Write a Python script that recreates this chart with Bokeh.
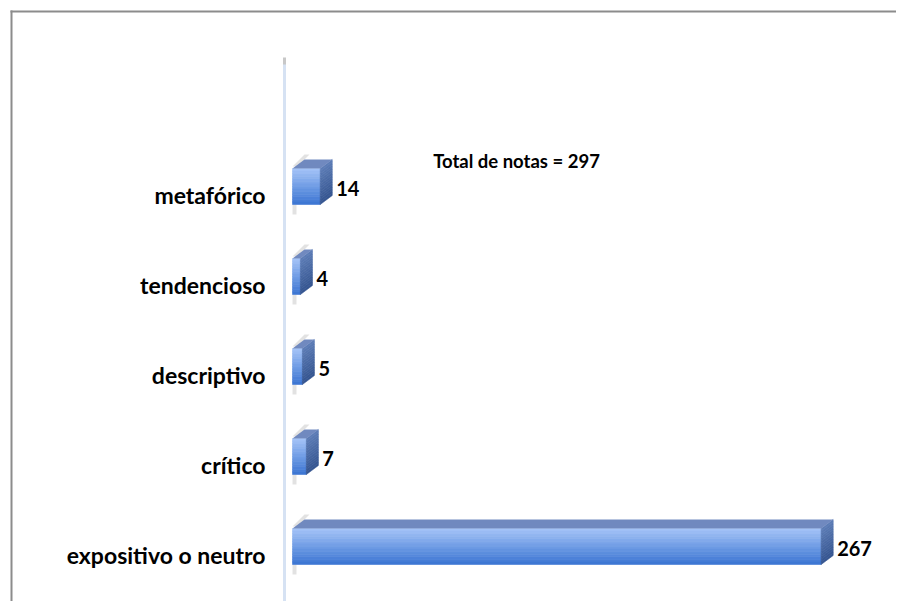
import numpy as np
from bokeh.plotting import figure
from bokeh.models import Range1d
from bokeh.embed import file_html
from bokeh.resources import INLINE
from bokeh.core.properties import value

# ---- data ----
categories = ["expositivo o neutro", "crítico", "descriptivo", "tendencioso", "metafórico"]
counts = [267, 7, 5, 4, 14]
total_text = "Total de notas = 297"

# ---- layout (canvas pixels) ----
W, H = 896, 601
X0_PX = 292              # canvas x of value 0
PPU = 1.98               # pixels per unit on x
Y0_PX = 554              # canvas y of first category
ROW_PX = 90.0            # pixels between categories

def xc(px):
    return (px - X0_PX) / PPU

def yc(py):
    return (Y0_PX - py) / ROW_PX

def ddx(px):
    return px / PPU

def ddy(py):
    return py / ROW_PX

p = figure(width=W, height=H, output_backend="svg", toolbar_location=None,
           x_range=Range1d(xc(0), xc(W)), y_range=Range1d(yc(H), yc(0)),
           x_axis_location=None, y_axis_location=None,
           min_border=0, min_border_left=0, min_border_right=0,
           min_border_top=0, min_border_bottom=0)
p.grid.visible = False
p.outline_line_color = None
p.background_fill_color = "white"
p.border_fill_color = "white"

FONT = "Lato"

# border (top and left)
p.segment(x0=[xc(10), xc(11)], x1=[xc(W + 5), xc(11)],
          y0=[yc(11), yc(10)], y1=[yc(11), yc(H + 5)],
          line_color="#8c8c8c", line_width=2)

# vertical axis line
p.segment(x0=[xc(284)], x1=[xc(284)], y0=[yc(58)], y1=[yc(H + 5)],
          line_color="#d6e2f3", line_width=3)
p.segment(x0=[xc(284)], x1=[xc(284)], y0=[yc(57)], y1=[yc(64)],
          line_color="#c8c8c8", line_width=3)

DX, DY = 12, 9           # depth offsets in px
HALF = 18                # half height of front face in px
OFF = 8                  # bars sit above label centre
N = 14

def lerp(c1, c2, t):
    a = np.array([int(c1[i:i+2], 16) for i in (1, 3, 5)], float)
    b = np.array([int(c2[i:i+2], 16) for i in (1, 3, 5)], float)
    c = a + (b - a) * t
    return "#%02x%02x%02x" % tuple(int(round(v)) for v in c)

fl, fr, fb, ft, fc = [], [], [], [], []
sxs, sys_, sc = [], [], []
txs, tys = [], []
shx, shy = [], []
for i, v in enumerate(counts):
    cy = i + ddy(OFF)
    top = cy + ddy(HALF)
    bot = cy - ddy(HALF)
    # soft shadows at the wall
    shx.append([0, ddx(5), ddx(5 + DX), ddx(DX)])
    shy.append([top + ddy(2), top + ddy(2), top + ddy(DY + 5), top + ddy(DY + 5)])
    shx.append([0, ddx(4), ddx(4), 0])
    shy.append([bot, bot, bot - ddy(10), bot - ddy(10)])
    for k in range(N):
        t0 = top - (top - bot) * k / N
        t1 = top - (top - bot) * (k + 1) / N
        col = lerp("#a6c5f8", "#3a74d2", (k + 0.5) / N)
        fl.append(0); fr.append(v); ft.append(t0); fb.append(t1); fc.append(col)
        sxs.append([v, v + ddx(DX), v + ddx(DX), v])
        sys_.append([t0, t0 + ddy(DY), t1 + ddy(DY), t1])
        sc.append(lerp("#5d7db7", "#34548f", (k + 0.5) / N))
    txs.append([0, v, v + ddx(DX), ddx(DX)])
    tys.append([top, top, top + ddy(DY), top + ddy(DY)])

p.patches(xs=shx, ys=shy, fill_color="#a0a0a0", fill_alpha=0.3, line_color=None)
p.quad(left=fl, right=fr, bottom=fb, top=ft, fill_color=fc, line_color=fc, line_width=0.6)
p.patches(xs=sxs, ys=sys_, fill_color=sc, line_color=sc, line_width=0.6)
p.patches(xs=txs, ys=tys, fill_color="#7089bf", line_color=None)

# value labels
p.text(x=[v + ddx(DX + 4) for v in counts], y=[i + ddy(OFF - 2) for i in range(len(counts))],
       text=[str(v) for v in counts], text_font=value(FONT), text_font_style="bold",
       text_font_size="20px", text_color="black", text_align="left", text_baseline="middle")

# category labels
p.text(x=[xc(265)] * len(categories), y=list(range(len(categories))), text=categories,
       text_font=value(FONT), text_font_style="bold", text_font_size="23px",
       text_color="black", text_align="right", text_baseline="middle")

# total
p.text(x=[xc(516)], y=[yc(160)], text=[total_text], text_font=value(FONT),
       text_font_style="bold", text_font_size="18.5px", text_color="black",
       text_align="center", text_baseline="middle")

open("out.html", "w").write(file_html(p, INLINE))
